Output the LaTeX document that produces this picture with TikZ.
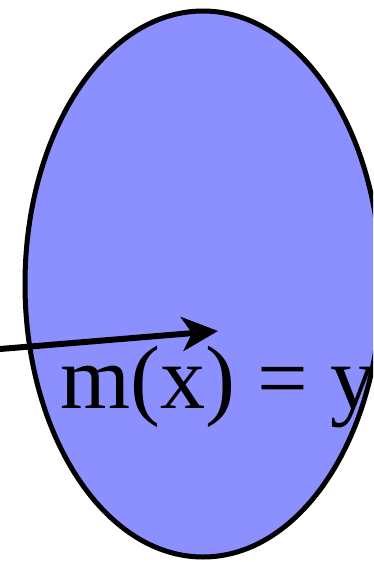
\documentclass[tikz,border=0pt]{standalone}
\usepackage{fontspec}
\setmainfont{Liberation Serif}
\usetikzlibrary{shapes.geometric,arrows.meta}
\definecolor{setblue}{RGB}{140,144,255}

\begin{document}
\begin{tikzpicture}[x=1pt,y=-1pt,
  setshape/.style={ellipse,inner sep=0pt,minimum width=356pt,minimum height=546pt},
  maparrow/.style={line width=6pt,-{Stealth[length=36pt,width=34pt,inset=10pt]}}]

\useasboundingbox (0,0) rectangle (373,562);
\clip (0,0) rectangle (373,562);

\node [setshape,fill=setblue] (codomain) at (203,284) {};

% text stays inside the set
\begin{scope}
\clip (203,284) ellipse [x radius=178pt,y radius=273pt];
\node [anchor=base west,inner sep=0pt,font=\fontsize{90}{100}\selectfont] (eq) at (60,408) {m(x) = y};
\end{scope}

\node [setshape,draw=black,line width=5pt] at (codomain.center) {};

\coordinate (x) at (0,349);
\coordinate (y) at (218,331);
\draw [maparrow] (x)--(y);

\end{tikzpicture}
\end{document}
